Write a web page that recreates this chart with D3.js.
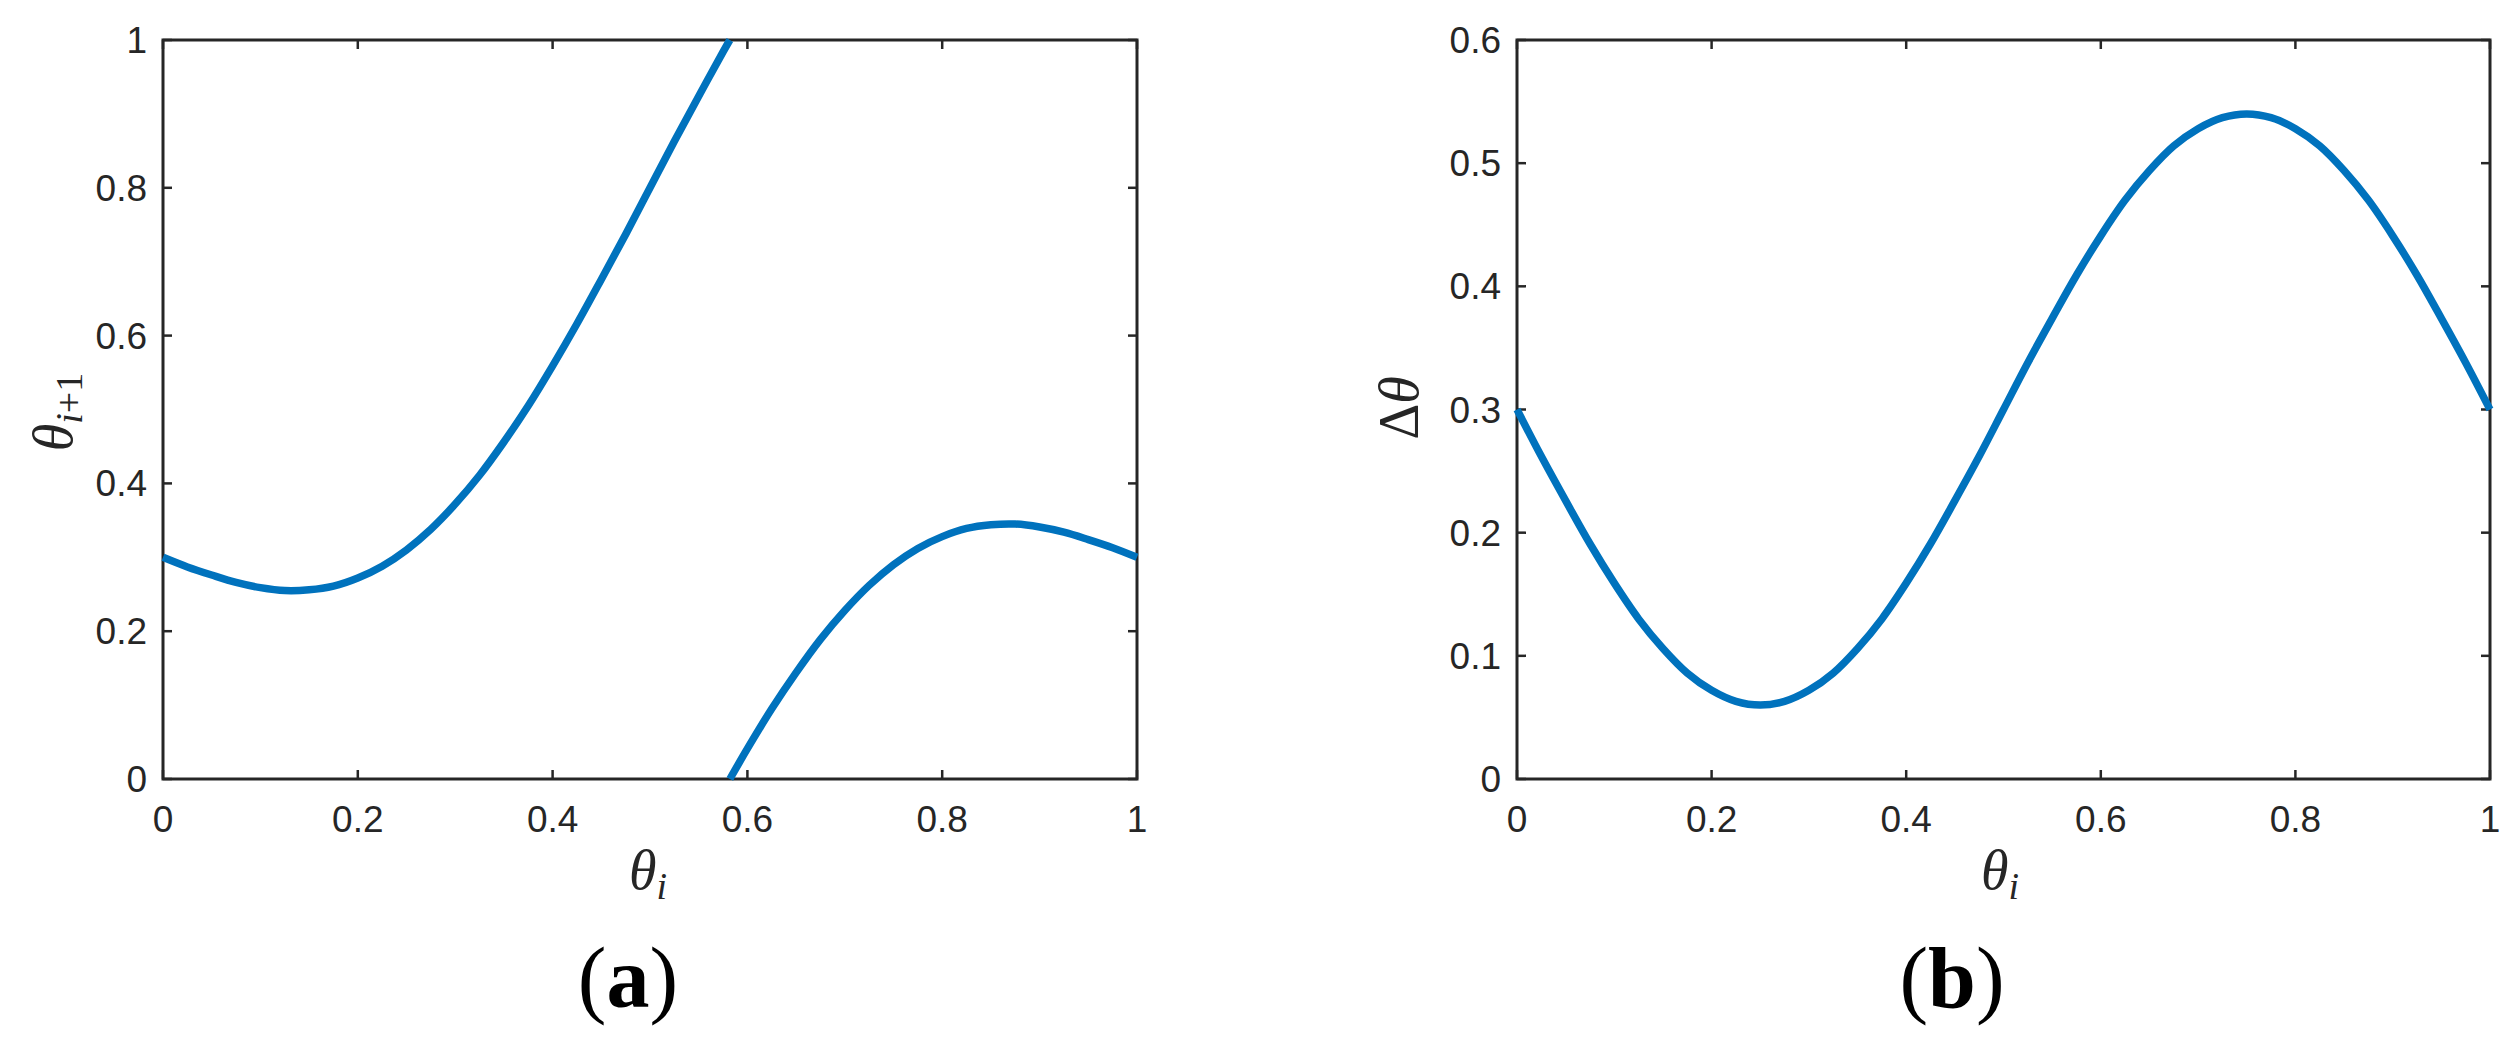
<!DOCTYPE html>
<html>
<head>
<meta charset="utf-8">
<script src="https://cdn.jsdelivr.net/npm/d3@7"></script>
<style>
  body { margin: 0; background: #fff; }
  svg { display: block; }
</style>
</head>
<body>
<div id="corpo"></div>
<script>
// theta_i grid (read every 0.025)
var thetaGrid = [0, 0.025, 0.05, 0.075, 0.1, 0.125, 0.15, 0.175, 0.2, 0.225,
  0.25, 0.275, 0.3, 0.325, 0.35, 0.375, 0.4, 0.425, 0.45, 0.475,
  0.5, 0.525, 0.55, 0.575, 0.6, 0.625, 0.65, 0.675, 0.7, 0.725,
  0.75, 0.775, 0.8, 0.825, 0.85, 0.875, 0.9, 0.925, 0.95, 0.975, 1];

// panel (a): first branch, theta 0 .. 0.582
var branch1X = [0, 0.025, 0.05, 0.075, 0.1, 0.125, 0.15, 0.175, 0.2, 0.225,
  0.25, 0.275, 0.3, 0.325, 0.35, 0.375, 0.4, 0.425, 0.45, 0.475,
  0.5, 0.525, 0.55, 0.575, 0.582];
var branch1Y = [0.300, 0.287, 0.276, 0.266, 0.259, 0.255, 0.256, 0.261, 0.272, 0.288,
  0.310, 0.338, 0.372, 0.411, 0.456, 0.505, 0.559, 0.616, 0.676, 0.737,
  0.800, 0.863, 0.924, 0.984, 1.000];

// panel (a): second branch, theta 0.582 .. 1
var branch2X = [0.582, 0.6, 0.625, 0.65, 0.675, 0.7, 0.725, 0.75, 0.775, 0.8,
  0.825, 0.85, 0.875, 0.9, 0.925, 0.95, 0.975, 1];
var branch2Y = [0.000, 0.041, 0.095, 0.144, 0.189, 0.228, 0.262, 0.290, 0.312, 0.328,
  0.339, 0.344, 0.345, 0.341, 0.334, 0.324, 0.313, 0.300];

// panel (b): delta theta
var deltaY = [0.300, 0.262, 0.226, 0.191, 0.159, 0.130, 0.106, 0.086, 0.072, 0.063,
  0.060, 0.063, 0.072, 0.086, 0.106, 0.130, 0.159, 0.191, 0.226, 0.262,
  0.300, 0.338, 0.374, 0.409, 0.441, 0.470, 0.494, 0.514, 0.528, 0.537,
  0.540, 0.537, 0.528, 0.514, 0.494, 0.470, 0.441, 0.409, 0.374, 0.338, 0.300];

var xTicks = [0, 0.2, 0.4, 0.6, 0.8, 1];
var yTicksA = [0, 0.2, 0.4, 0.6, 0.8, 1];
var yTicksB = [0, 0.1, 0.2, 0.3, 0.4, 0.5, 0.6];

var W = 2514, H = 1052;
var axisColor = "#262626";
var lineColor = "#0072BD";

var svg = d3.select("#corpo").append("svg")
  .attr("width", W)
  .attr("height", H);

function fmt(d) { return d === 0 || d === 1 ? String(d) : d3.format(".1f")(d); }

// draws one box-style axes panel, returns scales
function panel(left, right, top, bottom, yMax, yTicks) {
  var x = d3.scaleLinear().domain([0, 1]).range([left, right]);
  var y = d3.scaleLinear().domain([0, yMax]).range([bottom, top]);
  var g = svg.append("g");

  var tick = 9;
  // ticks bottom / top
  xTicks.forEach(function (t) {
    g.append("line").attr("x1", x(t)).attr("x2", x(t)).attr("y1", bottom).attr("y2", bottom - tick)
      .attr("stroke", axisColor).attr("stroke-width", 2.5);
    g.append("line").attr("x1", x(t)).attr("x2", x(t)).attr("y1", top).attr("y2", top + tick)
      .attr("stroke", axisColor).attr("stroke-width", 2.5);
    g.append("text").attr("x", x(t)).attr("y", bottom + 53)
      .attr("text-anchor", "middle")
      .attr("font-family", "Liberation Sans, Arial, sans-serif")
      .attr("font-size", 37).attr("fill", axisColor)
      .text(fmt(t));
  });
  yTicks.forEach(function (t) {
    g.append("line").attr("x1", left).attr("x2", left + tick).attr("y1", y(t)).attr("y2", y(t))
      .attr("stroke", axisColor).attr("stroke-width", 2.5);
    g.append("line").attr("x1", right).attr("x2", right - tick).attr("y1", y(t)).attr("y2", y(t))
      .attr("stroke", axisColor).attr("stroke-width", 2.5);
    g.append("text").attr("x", left - 16).attr("y", y(t) + 13)
      .attr("text-anchor", "end")
      .attr("font-family", "Liberation Sans, Arial, sans-serif")
      .attr("font-size", 37).attr("fill", axisColor)
      .text(fmt(t));
  });
  g.append("rect").attr("x", left).attr("y", top)
    .attr("width", right - left).attr("height", bottom - top)
    .attr("fill", "none").attr("stroke", axisColor).attr("stroke-width", 3);
  return {x: x, y: y, g: g};
}

var line = function (sx, sy) {
  return d3.line()
    .x(function (d) { return sx(d[0]); })
    .y(function (d) { return sy(d[1]); })
    .curve(d3.curveCatmullRom);
};

/*==== panel (a) ====*/
var pa = panel(163, 1137, 40, 779, 1, yTicksA);
var la = line(pa.x, pa.y);
[[branch1X, branch1Y], [branch2X, branch2Y]].forEach(function (b) {
  svg.append("path")
    .datum(d3.zip(b[0], b[1]))
    .attr("d", la)
    .attr("fill", "none")
    .attr("stroke", lineColor)
    .attr("stroke-width", 7.5);
});

/*==== panel (b) ====*/
var pb = panel(1517, 2490, 40, 779, 0.6, yTicksB);
svg.append("path")
  .datum(d3.zip(thetaGrid, deltaY))
  .attr("d", line(pb.x, pb.y))
  .attr("fill", "none")
  .attr("stroke", lineColor)
  .attr("stroke-width", 7.5);

/*==== labels ====*/
var serif = "Liberation Serif, DejaVu Serif, serif";

function xTitle(cx) {
  var t = svg.append("text")
    .attr("x", cx).attr("y", 889)
    .attr("text-anchor", "middle")
    .attr("font-family", serif).attr("font-size", 56)
    .attr("fill", axisColor);
  t.append("tspan").attr("font-style", "italic").text("θ");
  t.append("tspan").attr("font-style", "italic").attr("font-size", 38).attr("dy", 10).text("i");
}
xTitle(648);
xTitle(2000);

var yA = svg.append("text")
  .attr("transform", "translate(72,412) rotate(-90)")
  .attr("text-anchor", "middle")
  .attr("font-family", serif).attr("font-size", 56)
  .attr("fill", axisColor);
yA.append("tspan").attr("font-style", "italic").text("θ");
yA.append("tspan").attr("font-style", "italic").attr("font-size", 38).attr("dy", 10).text("i");
yA.append("tspan").attr("font-size", 38).text("+1");

var yB = svg.append("text")
  .attr("transform", "translate(1418,408) rotate(-90)")
  .attr("text-anchor", "middle")
  .attr("font-family", serif).attr("font-size", 56)
  .attr("fill", axisColor);
yB.append("tspan").text("Δ");
yB.append("tspan").attr("font-style", "italic").text("θ");

[["a", 628], ["b", 1952]].forEach(function (p) {
  var t = svg.append("text")
    .attr("x", p[1]).attr("y", 1007)
    .attr("text-anchor", "middle")
    .attr("font-family", serif).attr("font-size", 86)
    .attr("fill", "#000");
  t.append("tspan").text("(");
  t.append("tspan").attr("font-weight", "bold").text(p[0]);
  t.append("tspan").text(")");
});
</script>
</body>
</html>
